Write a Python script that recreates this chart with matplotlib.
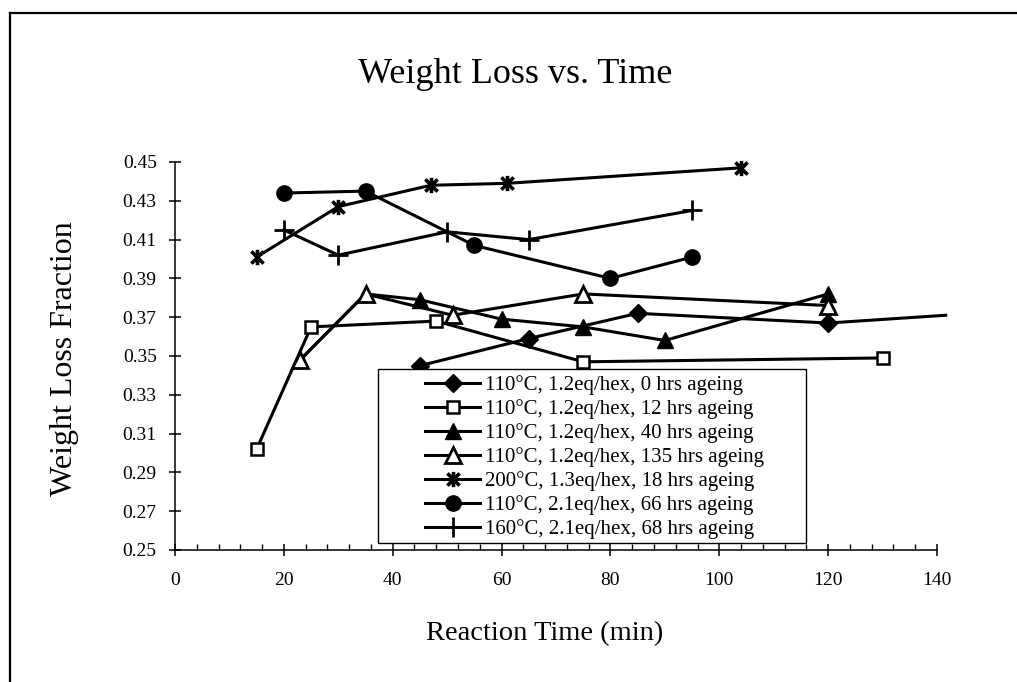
import matplotlib
matplotlib.use("Agg")
import matplotlib.pyplot as plt
from matplotlib.path import Path
from matplotlib.patches import Rectangle
from matplotlib.lines import Line2D
from matplotlib.ticker import MultipleLocator, FixedLocator, FormatStrFormatter

plt.rcParams['font.family'] = ['Liberation Serif', 'DejaVu Serif']

# ---- data ----
labels = [
    "110°C, 1.2eq/hex, 0 hrs ageing",
    "110°C, 1.2eq/hex, 12 hrs ageing",
    "110°C, 1.2eq/hex, 40 hrs ageing",
    "110°C, 1.2eq/hex, 135 hrs ageing",
    "200°C, 1.3eq/hex, 18 hrs ageing",
    "110°C, 2.1eq/hex, 66 hrs ageing",
    "160°C, 2.1eq/hex, 68 hrs ageing",
]
t_0h = [45, 65, 85, 120, 141.6]
w_0h = [0.345, 0.359, 0.372, 0.367, 0.371]
t_12h = [15, 25, 48, 75, 130]
w_12h = [0.302, 0.365, 0.368, 0.347, 0.349]
t_40h = [23, 35, 45, 60, 75, 90, 120]
w_40h = [0.348, 0.382, 0.379, 0.369, 0.365, 0.358, 0.382]
t_135h = [23, 35, 51, 75, 120]
w_135h = [0.348, 0.382, 0.371, 0.382, 0.376]
t_200 = [15, 30, 47, 61, 104]
w_200 = [0.401, 0.427, 0.438, 0.439, 0.447]
t_66h = [20, 35, 55, 80, 95]
w_66h = [0.434, 0.435, 0.407, 0.390, 0.401]
t_68h = [20, 30, 50, 65, 95]
w_68h = [0.415, 0.402, 0.414, 0.410, 0.425]

x_ticks = [0, 20, 40, 60, 80, 100, 120, 140]
y_ticks = [0.25, 0.27, 0.29, 0.31, 0.33, 0.35, 0.37, 0.39, 0.41, 0.43, 0.45]

# ---- figure ----
W, H = 1017, 682
fig = plt.figure(figsize=(W / 100, H / 100), dpi=100)
ax = fig.add_axes([175 / W, 1 - 550 / H, (937 - 175) / W, (550 - 162) / H])

asterisk = Path([(0, -1), (0, 1), (-0.8, -0.8), (0.8, 0.8), (-0.8, 0.8), (0.8, -0.8)],
                [Path.MOVETO, Path.LINETO, Path.MOVETO, Path.LINETO, Path.MOVETO, Path.LINETO])

lw = 2.2
common = dict(color='black', lw=lw, mec='black')
series = [
    (t_0h, w_0h, dict(marker='D', ms=9, mfc='black', markevery=[0, 1, 2, 3])),
    (t_12h, w_12h, dict(marker='s', ms=9, mfc='white', mew=1.8)),
    (t_40h, w_40h, dict(marker='^', ms=11, mfc='black')),
    (t_135h, w_135h, dict(marker='^', ms=11, mfc='white', mew=2.0)),
    (t_200, w_200, dict(marker=asterisk, ms=11, mew=2.6)),
    (t_66h, w_66h, dict(marker='o', ms=11, mfc='black')),
    (t_68h, w_68h, dict(marker='+', ms=14, mew=2.0)),
]
handles = []
for i, (xs, ys, kw) in enumerate(series):
    ax.plot(xs, ys, zorder=2 + i * 0.1, clip_on=False, **common, **kw)
    hkw = {k: v for k, v in kw.items() if k != 'markevery'}
    handles.append(Line2D([], [], **common, **hkw))

ax.set_xlim(0, 140)
ax.set_ylim(0.25, 0.45)
ax.xaxis.set_major_locator(FixedLocator(x_ticks))
ax.xaxis.set_minor_locator(MultipleLocator(4))
ax.yaxis.set_major_locator(FixedLocator(y_ticks))
ax.yaxis.set_major_formatter(FormatStrFormatter('%.2f'))
for s in ['top', 'right']:
    ax.spines[s].set_visible(False)
for s in ['left', 'bottom']:
    ax.spines[s].set_linewidth(1.1)
ax.tick_params(axis='both', which='major', direction='inout', length=8.6, width=1.1,
               labelsize=14)
ax.tick_params(axis='y', which='major', pad=8.9)
ax.tick_params(axis='x', which='major', pad=11.2)
ax.tick_params(axis='x', which='minor', direction='in', length=4.5, width=1.0)

# legend frame and legend
ax.add_patch(Rectangle((378 / W, 1 - 543 / H), (806 - 378) / W, (543 - 369) / H,
                       transform=fig.transFigure, facecolor='white', edgecolor='black',
                       lw=1.0, zorder=4, clip_on=False))
leg = ax.legend(handles, labels, loc='upper left',
                bbox_to_anchor=(425 / W, 1 - 375 / H), bbox_transform=fig.transFigure,
                frameon=False, fontsize=15, borderpad=0, borderaxespad=0,
                handlelength=2.64, handletextpad=0.24, labelspacing=0.2)
leg.set_zorder(5)

fig.text(515 / W, 1 - 83 / H, "Weight Loss vs. Time", ha='center', va='baseline', fontsize=26)
fig.text(545 / W, 1 - 640 / H, "Reaction Time (min)", ha='center', va='baseline', fontsize=20.5)
fig.text(65 / W, 1 - 359 / H, "Weight Loss Fraction", ha='center', va='center',
         rotation=90, fontsize=23)

# outer page border (top and left)
fig.add_artist(Line2D([10 / W, 10 / W], [0, 1 - 13 / H], color='black', lw=1.6,
                      transform=fig.transFigure))
fig.add_artist(Line2D([10 / W, 1], [1 - 13 / H, 1 - 13 / H], color='black', lw=1.6,
                      transform=fig.transFigure))

fig.savefig("out.png", dpi=100)
